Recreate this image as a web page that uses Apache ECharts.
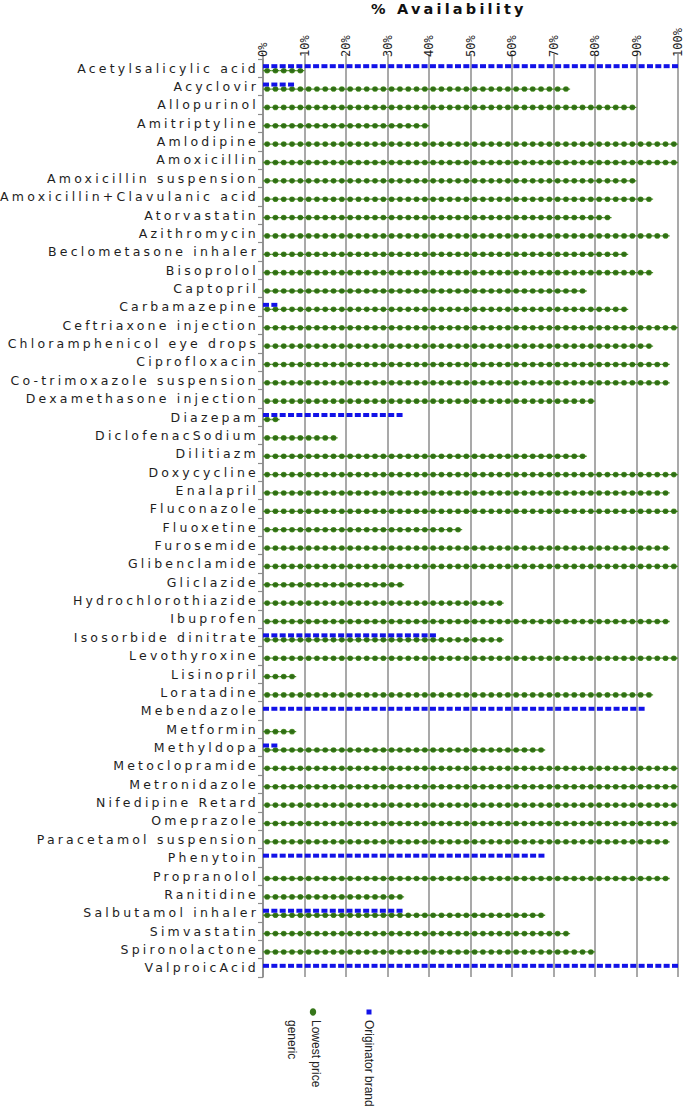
<!DOCTYPE html>
<html>
<head>
<meta charset="utf-8">
<script src="https://cdn.jsdelivr.net/npm/echarts@6/dist/echarts.min.js"></script>
<style>
  html, body { margin: 0; padding: 0; background: #ffffff; }
  #chart { width: 685px; height: 1110px; }
</style>
</head>
<body>
<div id="chart"></div>
<script>
const categories = [
  "Acetylsalicylic acid", "Acyclovir", "Allopurinol", "Amitriptyline", "Amlodipine",
  "Amoxicillin", "Amoxicillin suspension", "Amoxicillin+Clavulanic acid", "Atorvastatin", "Azithromycin",
  "Beclometasone inhaler", "Bisoprolol", "Captopril", "Carbamazepine", "Ceftriaxone injection",
  "Chloramphenicol eye drops", "Ciprofloxacin", "Co-trimoxazole suspension", "Dexamethasone injection", "Diazepam",
  "DiclofenacSodium", "Dilitiazm", "Doxycycline", "Enalapril", "Fluconazole",
  "Fluoxetine", "Furosemide", "Glibenclamide", "Gliclazide", "Hydrochlorothiazide",
  "Ibuprofen", "Isosorbide dinitrate", "Levothyroxine", "Lisinopril", "Loratadine",
  "Mebendazole", "Metformin", "Methyldopa", "Metoclopramide", "Metronidazole",
  "Nifedipine Retard", "Omeprazole", "Paracetamol suspension", "Phenytoin", "Propranolol",
  "Ranitidine", "Salbutamol inhaler", "Simvastatin", "Spironolactone", "ValproicAcid"
];

const originatorBrand = [
  100, 6.7, null, null, null,
  null, null, null, null, null,
  null, null, null, 3.3, null,
  null, null, null, null, 33.3,
  null, null, null, null, null,
  null, null, null, null, null,
  null, 40, null, null, null,
  90, null, 3.3, null, null,
  null, null, null, 66.7, null,
  null, 33.3, null, null, 100
];

const lowestPriceGeneric = [
  10, 73.3, 90, 40, 100,
  100, 90, 93.3, 83.3, 96.7,
  86.7, 93.3, 76.7, 86.7, 100,
  93.3, 96.7, 96.7, 80, 3.3,
  16.7, 76.7, 100, 96.7, 100,
  46.7, 96.7, 100, 33.3, 56.7,
  96.7, 56.7, 100, 6.7, 93.3,
  null, 6.7, 66.7, 100, 100,
  100, 100, 96.7, null, 96.7,
  33.3, 66.7, 73.3, 80, null
];

const titleText = "% Availability";
const seriesNames = ["Originator brand", "Lowest price generic"];

const gridColor = '#8c8c8c';
const blue = '#1212e8';
const green = '#37771b';
const greenBead = {
  type: 'radial', x: 0.5, y: 0.5, r: 0.55,
  colorStops: [
    { offset: 0, color: '#2b6612' },
    { offset: 0.55, color: '#347418' },
    { offset: 1, color: '#6fb040' }
  ]
};
const beadPath = 'path://M0,2.3H10V3.7H0Z M1.6,3A3.4,3 0 1,1 8.4,3A3.4,3 0 1,1 1.6,3Z';

const chart = echarts.init(document.getElementById('chart'), null, { renderer: 'svg' });

chart.setOption({
  animation: false,
  backgroundColor: '#ffffff',
  title: {
    text: titleText,
    left: 371,
    top: 1,
    padding: 0,
    textStyle: { fontFamily: 'DejaVu Sans', fontWeight: 'bold', fontSize: 14.5, color: '#111' }
  },
  grid: { left: 263, right: 7, top: 59, bottom: 133, containLabel: false, outerBoundsMode: 'none' },
  xAxis: {
    type: 'value',
    position: 'top',
    min: 0,
    max: 100,
    interval: 10,
    axisLine: { show: false },
    axisTick: { show: true, length: 5, lineStyle: { color: gridColor, width: 1.5 } },
    splitLine: { show: true, lineStyle: { color: gridColor, width: 1.5 } },
    axisLabel: {
      formatter: function (v) { return '{a|' + v + '%}'; },
      rotate: -90,
      margin: 2,
      width: 29,
      overflow: 'none',
      rich: {
        a: { align: 'left', fontFamily: 'DejaVu Sans Mono', fontSize: 12, color: '#222' }
      },
      fontFamily: 'DejaVu Sans Mono',
      fontSize: 12,
      color: '#222'
    }
  },
  yAxis: {
    type: 'category',
    inverse: true,
    data: categories,
    axisLine: { show: true, lineStyle: { color: gridColor, width: 1.5 } },
    axisTick: { show: true, length: 5, lineStyle: { color: gridColor, width: 1.2 } },
    axisLabel: {
      interval: 0,
      margin: 4,
      fontFamily: 'DejaVu Sans',
      fontSize: 12.5,
      color: '#1e1e1e'
    }
  },
  series: [
    {
      type: 'pictorialBar',
      name: seriesNames[0],
      data: originatorBrand,
      symbol: 'rect',
      symbolRepeat: true,
      symbolSize: [6, 4],
      symbolMargin: 1.2,
      symbolOffset: [0, -2],
      barWidth: 6,
      barGap: '-100%',
      itemStyle: { color: blue },
      z: 3
    },
    {
      type: 'pictorialBar',
      name: seriesNames[1],
      data: lowestPriceGeneric,
      symbol: beadPath,
      symbolRepeat: true,
      symbolSize: [8.3, 5.5],
      symbolMargin: 0,
      symbolOffset: [0, 2.5],
      barWidth: 6,
      barGap: '-100%',
      itemStyle: { color: greenBead },
      z: 2
    }
  ],
  graphic: [
    { type: 'ellipse', shape: { cx: 313, cy: 1012, rx: 3.2, ry: 3.7 }, style: { fill: green } },
    {
      type: 'text', x: 328, y: 1020, rotation: -Math.PI / 2,
      style: {
        text: 'Lowest price\ngeneric', font: '12px "Liberation Sans"', fill: '#222',
        textAlign: 'left', textVerticalAlign: 'top', lineHeight: 24
      }
    },
    { type: 'rect', shape: { x: 366.5, y: 1009.5, width: 5, height: 5 }, style: { fill: blue } },
    {
      type: 'text', x: 369, y: 1020, rotation: -Math.PI / 2,
      style: {
        text: 'Originator brand', font: '12px "Liberation Sans"', fill: '#222',
        textAlign: 'left', textVerticalAlign: 'middle'
      }
    }
  ]
});

const spaced = new Set(categories.concat([titleText]));
function spaceText() {
  document.querySelectorAll('#chart svg text').forEach(function (t) {
    if (spaced.has(t.textContent)) t.setAttribute('letter-spacing', '3.2');
  });
}
chart.on('finished', spaceText);
spaceText();
setTimeout(spaceText, 30);
setTimeout(spaceText, 200);
</script>
</body>
</html>
